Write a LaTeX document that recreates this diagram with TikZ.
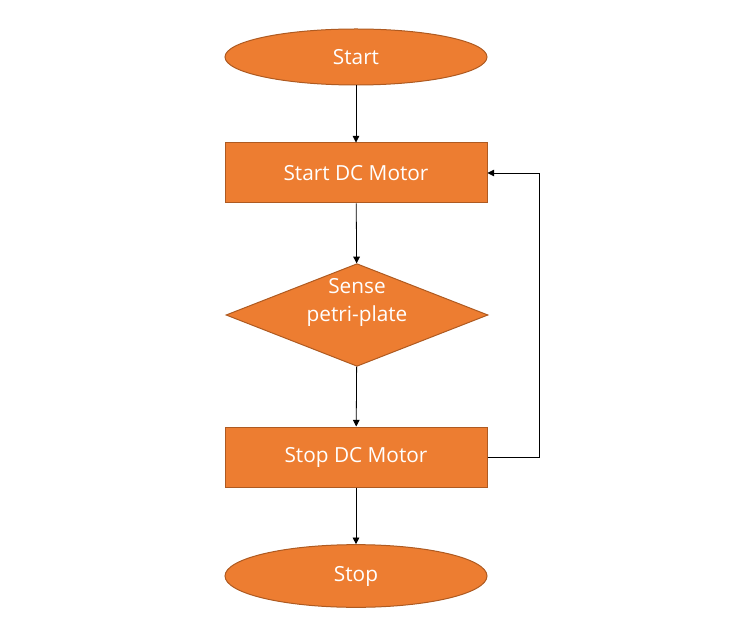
\documentclass[tikz,border=0pt]{standalone}
\usepackage{fontspec}
\setmainfont{Open Sans}
\usetikzlibrary{arrows.meta,shapes.geometric}
\definecolor{orangefill}{HTML}{ED7D31}
\definecolor{orangeline}{HTML}{AE5A21}

\begin{document}
\begin{tikzpicture}[x=0.75pt,y=-0.75pt,
    box/.style={draw=orangeline,fill=orangefill,line width=0.75pt,text=white,
        font=\fontsize{15.6}{21}\selectfont,minimum width=196.5pt,minimum height=45pt,inner sep=0pt},
    term/.style={box,ellipse},
    decision/.style={box,diamond,minimum width=196.5pt,minimum height=77pt},
    arr/.style={-{Triangle[width=5pt,length=5pt]},line width=0.6pt}]
                \useasboundingbox (0,0) rectangle (756,634);
                \node[term,minimum height=42pt] (start) at (356,57) {Start};
                \node[box] (startm) at (356,173) {Start DC Motor};
                \node[decision] (sense) at (357,315) {};
                \node[text=white,align=center,font=\fontsize{15.6}{21}\selectfont] (sensetxt) at (357,302) {Sense\\petri-plate};
                \node[box] (stopm) at (356,457) {Stop DC Motor};
                \node[term,minimum height=47pt] (stop) at (356,576) {Stop};
                \coordinate (loop) at (539,457);
                \draw[arr] (start) -- (startm);
                \draw[arr] (startm) -- (sense);
                \draw[arr] (sense) -- (stopm);
                \draw[arr] (stopm) -- (stop);
                \draw[arr] (stopm.east) -- (loop) |- (startm.east);
            \end{tikzpicture}
\end{document}
